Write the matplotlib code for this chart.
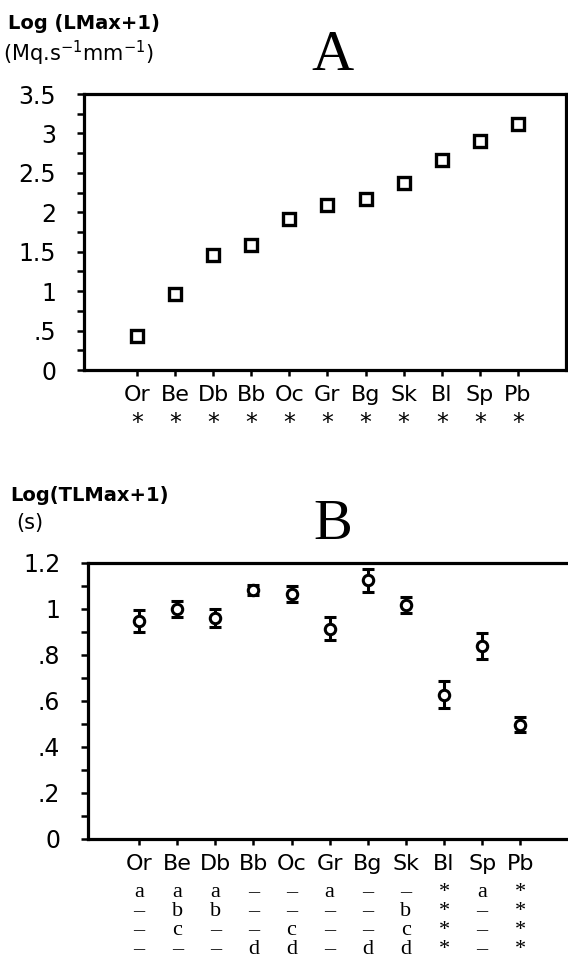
import matplotlib
matplotlib.use("Agg")
import matplotlib.pyplot as plt
from matplotlib.ticker import MultipleLocator

plt.rcParams['font.family'] = 'DejaVu Sans'
plt.rcParams['mathtext.default'] = 'regular'

# data
species = ['Or', 'Be', 'Db', 'Bb', 'Oc', 'Gr', 'Bg', 'Sk', 'Bl', 'Sp', 'Pb']
lmax = [0.43, 0.96, 1.46, 1.58, 1.92, 2.09, 2.17, 2.37, 2.66, 2.90, 3.12]
tlmax = [0.948, 1.0, 0.96, 1.083, 1.065, 0.915, 1.125, 1.017, 0.628, 0.838, 0.497]
tlmax_err = [0.047, 0.035, 0.04, 0.02, 0.035, 0.05, 0.05, 0.035, 0.058, 0.056, 0.033]

a_ticks = [0, 0.5, 1, 1.5, 2, 2.5, 3, 3.5]
a_ticklabels = ['0', '.5', '1', '1.5', '2', '2.5', '3', '3.5']
b_ticks = [0, 0.2, 0.4, 0.6, 0.8, 1.0, 1.2]
b_ticklabels = ['0', '.2', '.4', '.6', '.8', '1', '1.2']

a_marks = ['*'] * 11
row1 = ['a', 'a', 'a', '–', '–', 'a', '–', '–', '*', 'a', '*']
row2 = ['–', 'b', 'b', '–', '–', '–', '–', 'b', '*', '–', '*']
row3 = ['–', 'c', '–', '–', 'c', '–', '–', 'c', '*', '–', '*']
row4 = ['–', '–', '–', 'd', 'd', '–', 'd', 'd', '*', '–', '*']

W, H = 568, 966
fig = plt.figure(figsize=(W / 100, H / 100), dpi=100)


def box(l, t, r, b):
    # pixel box -> figure fraction
    return [l / W, 1 - b / H, (r - l) / W, (b - t) / H]


def style(ax):
    for s in ax.spines.values():
        s.set_linewidth(2.3)
    ax.tick_params(axis='y', which='both', direction='out', width=1.8,
                   length=5, labelsize=17, pad=15)
    ax.tick_params(axis='x', direction='out', length=4, width=1.8,
                   labelsize=16, pad=7)


x = list(range(len(species)))

# ---- panel A
axA = fig.add_axes(box(84, 94, 566, 370))
axA.plot(x, lmax, ls='none', marker='s', ms=8, mfc='white', mec='black', mew=2.4)
axA.set_xlim(-1.39, 11.26)
axA.set_ylim(0, 3.5)
axA.set_yticks(a_ticks)
axA.set_yticklabels(a_ticklabels)
axA.yaxis.set_minor_locator(MultipleLocator(0.25))
axA.set_xticks(x)
axA.set_xticklabels(species)
style(axA)
for i, m in enumerate(a_marks):
    axA.annotate(m, (i, 0), xycoords=('data', 'axes fraction'),
                 xytext=(0, -43), textcoords='offset points',
                 ha='center', va='baseline', fontsize=17)

fig.text(8 / W, 1 - 29 / H, 'Log (LMax+1)', fontsize=14, fontweight='bold',
         va='baseline')
fig.text(3 / W, 1 - 61 / H, '(Mq.s$^{-1}$mm$^{-1}$)', fontsize=15, va='baseline')
fig.text(332 / W, 1 - 70 / H, 'A', fontsize=42, family='Liberation Serif',
         ha='center', va='baseline')

# ---- panel B
axB = fig.add_axes(box(88, 563, 566, 839))
axB.errorbar(x, tlmax, yerr=tlmax_err, fmt='o', ms=7.5, mfc='white', mec='black',
             mew=2.2, ecolor='black', elinewidth=2.2, capsize=4.5, capthick=2.4,
             color='black')
axB.set_xlim(-1.34, 11.2)
axB.set_ylim(0, 1.2)
axB.set_yticks(b_ticks)
axB.set_yticklabels(b_ticklabels)
axB.yaxis.set_minor_locator(MultipleLocator(0.1))
axB.set_xticks(x)
axB.set_xticklabels(species)
axB.spines['right'].set_visible(False)
style(axB)
for r, row in enumerate([row1, row2, row3, row4]):
    for i, t in enumerate(row):
        axB.annotate(t, (i, 0), xycoords=('data', 'axes fraction'),
                     xytext=(0, -42 - r * 13.6), textcoords='offset points',
                     ha='center', va='baseline', fontsize=16,
                     family='Liberation Serif')

fig.text(10 / W, 1 - 501 / H, 'Log(TLMax+1)', fontsize=14, fontweight='bold',
         va='baseline')
fig.text(16 / W, 1 - 529 / H, '(s)', fontsize=15, va='baseline')
fig.text(333 / W, 1 - 539 / H, 'B', fontsize=42, family='Liberation Serif',
         ha='center', va='baseline')

fig.savefig('out.png', dpi=100)
